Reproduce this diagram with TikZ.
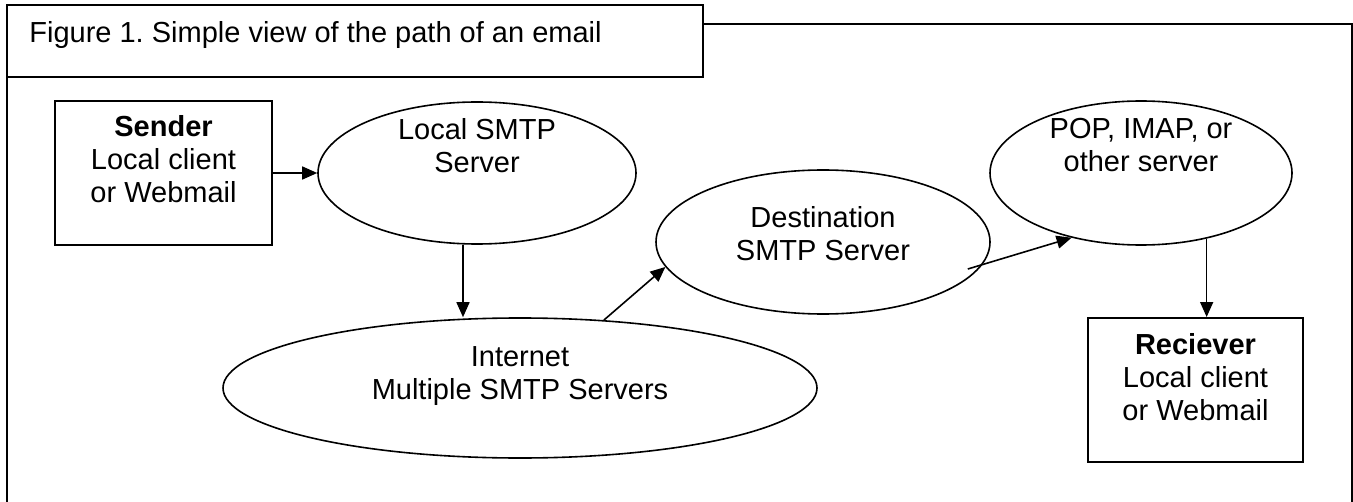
\documentclass[tikz,border=0pt]{standalone}
\usepackage{fontspec}
\setmainfont{Liberation Sans}
\usetikzlibrary{arrows.meta, positioning, shapes, calc}
\frenchspacing

\begin{document}
\begin{tikzpicture}[x=0.5pt, y=-0.5pt,
        box/.style={rectangle, draw, line width=1pt, inner sep=0pt},
        oval/.style={ellipse, draw, line width=0.8pt, inner sep=0pt},
        txt/.style={align=center, inner sep=0pt, font=\fontsize{14.5}{16.5}\selectfont},
        arrow/.style={-{Triangle[length=7.5pt, width=6.5pt]}, line width=0.8pt}
    ]
        \useasboundingbox (0,0) rectangle (1353,502);

        % Title and frame
        \node[box, minimum width=348pt, minimum height=36pt] (title) at (355,41) {};
        \node[txt, anchor=base west] (titletxt) at (29,43) {Figure 1. Simple view of the path of an email};
        \draw[line width=1pt] (703,24) -- (1352,24) -- (1352,502);
        \draw[line width=1pt] (7,77) -- (7,502);

        % Sender side
        \node[box, minimum width=108.5pt, minimum height=72pt] (sender) at (163.5,173) {};
        \node[txt] (sendertxt) at (163.5,159.5) {\textbf{Sender}\\Local client\\or Webmail};
        \node[oval, minimum width=159pt, minimum height=71pt] (lsmtp) at (477,173) {};
        \node[txt] (lsmtptxt) at (477,145.5) {Local SMTP\\Server};

        % Internet and destination
        \node[oval, minimum width=297pt, minimum height=70pt] (internet) at (520,388) {};
        \node[txt] (internettxt) at (520,376) {Internet\\Multiple SMTP Servers};
        \node[oval, minimum width=167pt, minimum height=72pt] (dest) at (823,242) {};
        \node[txt] (desttxt) at (823,234) {Destination\\SMTP Server};

        % Receiver side
        \node[oval, minimum width=151pt, minimum height=72pt] (pop) at (1141,173) {};
        \node[txt] (poptxt) at (1141,145.5) {POP, IMAP, or\\other server};
        \node[box, minimum width=107.5pt, minimum height=72pt] (reciever) at (1195.5,390) {};
        \node[txt] (recievertxt) at (1195.5,377.5) {\textbf{Reciever}\\Local client\\or Webmail};

        % Path of the email
        \draw[arrow] (sender.east) -- (lsmtp.west);
        \draw[arrow] ([xshift=-7pt]lsmtp.south) -- ([xshift=-7pt]lsmtp.south |- internet.north);
        \draw[arrow] (internet.39) -- (dest.189);
        \draw[arrow] ([shift={(-23,27)}]dest.east) -- (pop.223);
        \draw[arrow] (pop.-45) -- (pop.-45 |- reciever.north);
    \end{tikzpicture}
\end{document}
